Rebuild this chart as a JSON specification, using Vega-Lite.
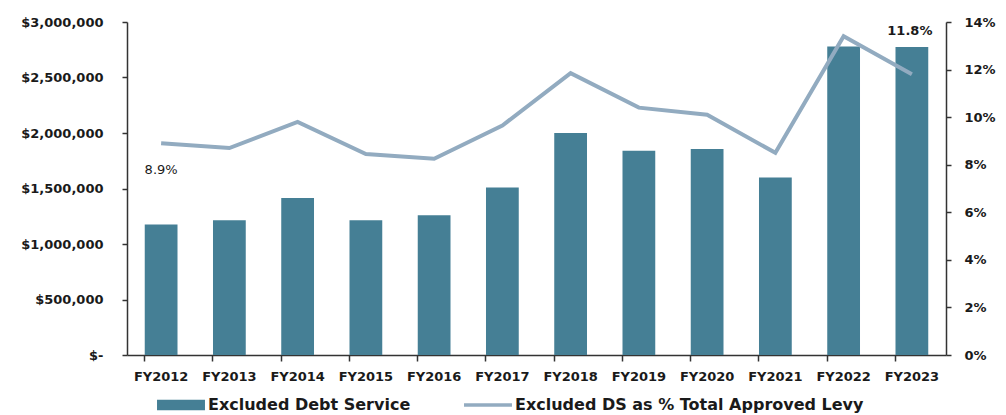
{
  "$schema": "https://vega.github.io/schema/vega-lite/v6.json",
  "width": 819,
  "height": 333,
  "autosize": {"type": "none"},
  "padding": {"left": 127, "top": 22, "right": 60, "bottom": 60},
  "background": "white",
  "config": {
    "font": "DejaVu Sans",
    "view": {"stroke": null},
    "axis": {"labelFont": "DejaVu Sans", "labelFontWeight": "bold", "labelFontSize": 13, "labelColor": "#1a1a1a", "domainColor": "#333333", "tickColor": "#333333", "grid": false, "domainWidth": 1.5, "tickWidth": 1.5}
  },
  "data": {
    "values": [
      {"year": "FY2012", "amount": 1175000, "pct": 8.9, "label": "8.9%"},
      {"year": "FY2013", "amount": 1215000, "pct": 8.7},
      {"year": "FY2014", "amount": 1415000, "pct": 9.8},
      {"year": "FY2015", "amount": 1215000, "pct": 8.45},
      {"year": "FY2016", "amount": 1260000, "pct": 8.25},
      {"year": "FY2017", "amount": 1510000, "pct": 9.65},
      {"year": "FY2018", "amount": 2000000, "pct": 11.85},
      {"year": "FY2019", "amount": 1840000, "pct": 10.4},
      {"year": "FY2020", "amount": 1855000, "pct": 10.1},
      {"year": "FY2021", "amount": 1600000, "pct": 8.5},
      {"year": "FY2022", "amount": 2780000, "pct": 13.4},
      {"year": "FY2023", "amount": 2775000, "pct": 11.8, "label": "11.8%"}
    ]
  },
  "encoding": {
    "x": {
      "field": "year", "type": "nominal", "sort": null,
      "scale": {"paddingInner": 0.52, "paddingOuter": 0.26},
      "axis": {"title": null, "labelAngle": 0, "bandPosition": 0, "tickSize": 6, "labelPadding": 9}
    }
  },
  "layer": [
    {
      "mark": {"type": "bar", "color": "#457f95"},
      "encoding": {
        "y": {
          "field": "amount", "type": "quantitative",
          "scale": {"domain": [0, 3000000]},
          "axis": {"title": null, "values": [0, 500000, 1000000, 1500000, 2000000, 2500000, 3000000], "labelExpr": "datum.value == 0 ? '$-' : '$' + format(datum.value, ',')", "tickSize": 5, "labelPadding": 19}
        },
        "color": {
          "datum": "Excluded Debt Service",
          "scale": {"domain": ["Excluded Debt Service", "Excluded DS as % Total Approved Levy"], "range": ["#457f95", "#92abc0"]},
          "legend": {
            "orient": "none", "legendX": 30, "legendY": 359, "direction": "horizontal", "columns": 2, "title": null,
            "symbolType": "M-1,-0.2H1V0.2H-1Z", "symbolSize": 2300, "symbolStrokeWidth": 0,
            "labelFont": "DejaVu Sans", "labelFontSize": 16, "labelFontWeight": "bold", "labelColor": "#1a1a1a", "labelLimit": 600,
            "columnPadding": 53, "labelOffset": 3, "padding": 0,
            "encode": {"symbols": {"update": {
              "shape": {"signal": "datum.value === 'Excluded Debt Service' ? 'M-1,-0.22H1V0.22H-1Z' : 'M-1,-0.07H1V0.07H-1Z'"},
              "fill": {"signal": "datum.value === 'Excluded Debt Service' ? '#457f95' : '#92abc0'"},
              "strokeWidth": {"value": 0},
              "opacity": {"value": 1}
            }}}
          }
        }
      }
    },
    {
      "layer": [
        {
          "mark": {"type": "line", "strokeWidth": 4},
          "encoding": {
            "y": {
              "field": "pct", "type": "quantitative",
              "scale": {"domain": [0, 14]},
              "axis": {"title": null, "orient": "right", "values": [0, 2, 4, 6, 8, 10, 12, 14], "labelExpr": "datum.value + '%'", "tickSize": 5, "labelPadding": 13}
            },
            "color": {"datum": "Excluded DS as % Total Approved Levy"}
          }
        },
        {
          "transform": [{"filter": "datum.year == 'FY2012'"}],
          "mark": {"type": "text", "dy": 27, "fontSize": 13, "color": "#1a1a1a", "font": "DejaVu Sans"},
          "encoding": {
            "y": {"field": "pct", "type": "quantitative"},
            "text": {"field": "label"}
          }
        },
        {
          "transform": [{"filter": "datum.year == 'FY2023'"}],
          "mark": {"type": "text", "dy": -43, "dx": -2, "fontSize": 13, "fontWeight": "bold", "color": "#1a1a1a", "font": "DejaVu Sans"},
          "encoding": {
            "y": {"field": "pct", "type": "quantitative"},
            "text": {"field": "label"}
          }
        }
      ]
    }
  ],
  "resolve": {"scale": {"y": "independent"}}
}
